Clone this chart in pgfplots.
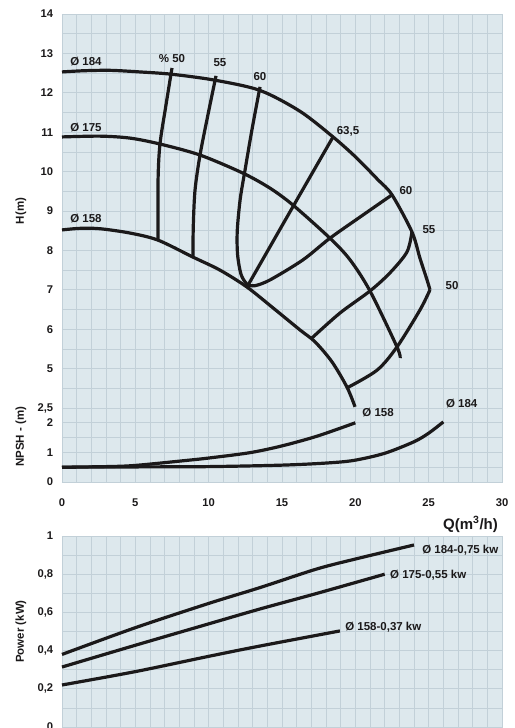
\documentclass[border=0pt]{standalone}
\usepackage{fontspec}
\setmainfont{Liberation Sans}
\usepackage{pgfplots}
\pgfplotsset{compat=1.18}
\definecolor{bg}{RGB}{221,232,237}
\definecolor{gridc}{RGB}{194,208,216}
\definecolor{ink}{RGB}{27,25,26}
\pgfplotsset{
  pumpaxis/.style={
    scale only axis, width=440pt, clip=false,
    xmin=0, xmax=30,
    axis background/.style={fill=bg},
    axis line style={draw=gridc, line width=0.8pt},
    grid=both,
    major grid style={draw=gridc, line width=0.8pt},
    minor grid style={draw=gridc, line width=0.8pt},
    major tick length=0pt, minor tick length=0pt,
    tick style={draw=none},
    xtick={0,5,...,30}, minor xtick={0,1,...,30},
    tick label style={font=\bfseries\fontsize{11.2}{13}\selectfont, text=ink},
    /pgf/number format/assume math mode=true,
    /pgf/number format/use comma,
    yticklabel style={xshift=-5.3pt},
    label style={font=\bfseries\fontsize{11.5}{13}\selectfont, text=ink},
  },
  nox/.style={xticklabels={,,,,,,}},
  curve/.style={ink, line width=3.2pt, smooth, mark=none},
}
\tikzset{lbl/.style={font=\bfseries\fontsize{11.5}{13}\selectfont, text=ink, inner sep=0pt}}
\begin{document}
\begin{tikzpicture}
\path[use as bounding box] (0,0) rectangle (514pt,-728pt);

% ---------- H - Q ----------
\begin{axis}[pumpaxis, nox, at={(62pt,-14pt)}, anchor=north west, height=394pt,
  ymin=4, ymax=14, ytick={5,6,...,14}, minor ytick={4,4.5,...,14},
  ylabel={H(m)}, ylabel style={at={(axis description cs:-0.0932,0.5)}, anchor=center}]
% impeller curves
\addplot[curve] coordinates {(0,12.53) (1.5,12.56) (3.3,12.57) (5.3,12.53) (7.5,12.47) (10.43,12.32) (13.5,12.06) (16.23,11.53) (18.48,10.88) (20.05,10.36) (21.55,9.79) (22.5,9.41) (23.86,8.47) (24.4,7.81) (24.89,7.25) (25.09,7.0)};
\addplot[curve] coordinates {(0,10.88) (2.6,10.9) (4.64,10.85) (6.68,10.7) (9.41,10.42) (12.34,9.96) (14.18,9.58) (15.75,9.15) (18.27,8.31) (19.64,7.76) (21.0,6.97) (22.84,5.55) (23.05,5.27)};
\addplot[curve] coordinates {(0,8.52) (1.23,8.56) (2.6,8.55) (4.64,8.44) (6.55,8.26) (8.93,7.83) (10.77,7.5) (12.61,7.07) (14.39,6.54) (16.23,5.98) (17.25,5.68) (18.41,5.17) (19.43,4.53) (19.98,4.03)};
% efficiency curves
\addplot[curve] coordinates {(7.5,12.63) (7.09,11.69) (6.68,10.7) (6.55,9.79) (6.55,8.26)};
\addplot[curve] coordinates {(10.5,12.43) (9.95,11.44) (9.41,10.42) (9.07,9.53) (8.95,8.6) (8.93,7.83)};
\addplot[curve] coordinates {(13.5,12.15) (12.95,11.06) (12.48,10.04) (12.15,9.3) (11.95,8.5) (11.97,7.9) (12.2,7.4) (12.6,7.15) (13.1,7.1) (14.18,7.25) (16.43,7.76) (18.27,8.31) (20.45,8.88) (22.5,9.41)};
\addplot[curve] coordinates {(12.61,7.07) (15.5,8.95) (18.48,10.88)};
\addplot[curve] coordinates {(23.86,8.47) (23.52,7.96) (22.36,7.43) (21.0,6.97) (18.95,6.41) (17.05,5.78)};
\addplot[curve] coordinates {(25.09,7.0) (24.41,6.49) (22.84,5.55) (21.48,4.96) (19.43,4.51)};
% labels
\node[lbl, anchor=west] at (axis cs:0.55,12.78) {Ø 184};
\node[lbl, anchor=west] at (axis cs:0.55,11.11) {Ø 175};
\node[lbl, anchor=west] at (axis cs:0.55,8.80) {Ø 158};
\node[lbl] at (axis cs:7.5,12.88) {\% 50};
\node[lbl] at (axis cs:10.77,12.76) {55};
\node[lbl] at (axis cs:13.5,12.4) {60};
\node[lbl] at (axis cs:19.5,11.03) {63,5};
\node[lbl] at (axis cs:23.45,9.51) {60};
\node[lbl] at (axis cs:25.02,8.52) {55};
\node[lbl] at (axis cs:26.6,7.12) {50};
\end{axis}

% ---------- NPSH ----------
\begin{axis}[pumpaxis, at={(62pt,-408pt)}, anchor=north west, height=74pt,
  ymin=0, ymax=2.5, ytick={0,1,2,2.5}, minor ytick={0,0.5,...,2.5},
  xticklabel style={yshift=-13pt},
  ylabel={NPSH - (m)}, ylabel style={at={(axis description cs:-0.0932,0.61)}, anchor=center}]
\addplot[curve] coordinates {(0,0.5) (5,0.51) (10,0.52) (15,0.57) (18,0.64) (19.9,0.73) (22,0.97) (24,1.36) (25,1.65) (26,2.03)};
\addplot[curve] coordinates {(0,0.5) (3,0.52) (5,0.56) (8.7,0.74) (10,0.81) (12.8,0.99) (15,1.22) (17.4,1.55) (20,2.0)};
\node[lbl] at (axis cs:21.55,2.33) {Ø 158};
\node[lbl] at (axis cs:27.25,2.64) {Ø 184};
\end{axis}

% ---------- Power ----------
\begin{axis}[pumpaxis, nox, at={(62pt,-536pt)}, anchor=north west, height=191pt,
  ymin=0, ymax=1, ytick={0,0.2,0.4,0.6,0.8,1}, minor ytick={0,0.1,...,1},
  ylabel={Power (kW)}, ylabel style={at={(axis description cs:-0.0932,0.5)}, anchor=center}]
\addplot[curve] coordinates {(0,0.38) (5,0.52) (10,0.647) (13.5,0.73) (17.4,0.828) (20.3,0.885) (24,0.953)};
\addplot[curve] coordinates {(0,0.314) (5,0.428) (10,0.54) (13.5,0.618) (17.4,0.70) (22,0.80)};
\addplot[curve] coordinates {(0,0.22) (5,0.29) (10,0.37) (13.5,0.424) (18.95,0.503)};
\node[lbl, anchor=west] at (axis cs:24.55,0.927) {Ø 184-0,75 kw};
\node[lbl, anchor=west] at (axis cs:22.36,0.796) {Ø 175-0,55 kw};
\node[lbl, anchor=west] at (axis cs:19.3,0.524) {Ø 158-0,37 kw};
\node[font=\bfseries\fontsize{15}{17}\selectfont, text=ink, anchor=base east, inner sep=0pt, yshift=7pt] at (rel axis cs:0.991,1) {Q(m\textsuperscript{3}/h)};
\end{axis}
\end{tikzpicture}
\end{document}
